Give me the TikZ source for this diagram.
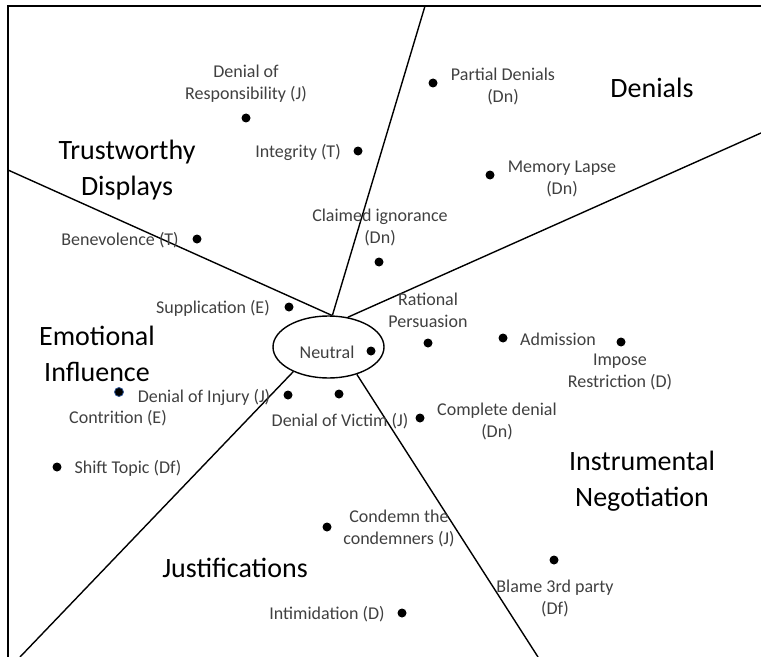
\documentclass[tikz,border=0pt]{standalone}
\usepackage{fontspec}
\setmainfont{Carlito}
\usetikzlibrary{shapes.geometric}
\definecolor{gristexte}{HTML}{404040}
\definecolor{bordbleu}{HTML}{2F5597}
\begin{document}
\begin{tikzpicture}[x=1bp, y=-1bp]
	\tikzset{pastille/.style={circle, fill=black, inner sep=0pt, minimum size=9bp}, etiquette/.style={text=gristexte, align=center, inner sep=0pt, font=\fontsize{18bp}{22bp}\selectfont}, zone/.style={align=center, inner sep=0pt, font=\fontsize{28bp}{36bp}\selectfont}, trait/.style={line width=1.4bp}};
	\useasboundingbox (0,0) rectangle (761,657);

	% cadre
	\coordinate (cb) at (8,657);
	\coordinate (ch) at (8,6);
	\coordinate (cd) at (761,6);
	\draw[trait] (cb) -- (ch) -- (cd);

	% centre et secteurs
	\node[ellipse, draw, trait, minimum width=111bp, minimum height=62bp, inner sep=0pt] (neutre) at (328.5,347) {};
	\coordinate (s1) at (425,6);
	\coordinate (s2) at (8,170);
	\coordinate (s3) at (761,133);
	\coordinate (s4) at (20,657);
	\coordinate (s5) at (538,657);
	\draw[trait] (neutre.83) -- (s1);
	\draw[trait] (neutre.84) -- (s2);
	\draw[trait] (neutre.57) -- (s3);
	\draw[trait] (neutre.215) -- (s4);
	\draw[trait] (neutre.316) -- (s5);

	% titres des zones
	\node[zone] (trust) at (127,170) {Trustworthy\\Displays};
	\node[zone] (denials) at (652,88) {Denials};
	\node[zone] (emot) at (97,353.5) {Emotional\\Influence};
	\node[zone] (justif) at (235,568) {Justifications};
	\node[zone] (instru) at (642,481.5) {Instrumental\\Negotiation};

	% points
	\node[pastille] (pResp) at (246,118) {};
	\node[pastille] (pInteg) at (358,151) {};
	\node[pastille] (pBenev) at (197,239) {};
	\node[pastille] (pClaim) at (379,262) {};
	\node[pastille] (pSuppl) at (289,307) {};
	\node[pastille] (pPart) at (433,83) {};
	\node[pastille] (pMem) at (490,175) {};
	\node[pastille] (pRat) at (428,343) {};
	\node[pastille] (pNeut) at (371,351) {};
	\node[pastille, draw=bordbleu, line width=0.8bp] (pContr) at (119,392) {};
	\node[pastille] (pInjury) at (288,395) {};
	\node[pastille] (pVictim) at (339,394) {};
	\node[pastille] (pCompl) at (420,418) {};
	\node[pastille] (pShift) at (57,467) {};
	\node[pastille] (pCond) at (327,527) {};
	\node[pastille] (pIntim) at (402,613) {};
	\node[pastille] (pAdm) at (503,338) {};
	\node[pastille] (pImp) at (621,342) {};
	\node[pastille] (pBlame) at (554,560) {};

	% etiquettes
	\node[etiquette] (lResp) at (246,83.5) {Denial of\\Responsibility (J)};
	\node[etiquette] (lInteg) at (298,152) {Integrity (T)};
	\node[etiquette] (lBenev) at (120,240) {Benevolence (T)};
	\node[etiquette] (lClaim) at (380,227) {Claimed ignorance\\(Dn)};
	\node[etiquette] (lSuppl) at (213,308) {Supplication (E)};
	\node[etiquette] (lPart) at (503,86) {Partial Denials\\(Dn)};
	\node[etiquette] (lMem) at (562,178.5) {Memory Lapse\\(Dn)};
	\node[etiquette] (lRat) at (428,310) {Rational\\Persuasion};
	\node[etiquette] (lNeut) at (327,352) {Neutral};
	\node[etiquette] (lInjury) at (204,397) {Denial of Injury (J)};
	\node[etiquette] (lContr) at (118,418) {Contrition (E)};
	\node[etiquette] (lVictim) at (340,421) {Denial of Victim (J)};
	\node[etiquette] (lCompl) at (497,421) {Complete denial\\(Dn)};
	\node[etiquette] (lShift) at (128,468) {Shift Topic (Df)};
	\node[etiquette] (lCond) at (399,528.5) {Condemn the\\condemners (J)};
	\node[etiquette] (lIntim) at (327,614) {Intimidation (D)};
	\node[etiquette] (lAdm) at (558,339) {Admission};
	\node[etiquette] (lImp) at (620,371.5) {Impose\\Restriction (D)};
	\node[etiquette] (lBlame) at (555,598) {Blame 3rd party\\(Df)};
\end{tikzpicture}
\end{document}
